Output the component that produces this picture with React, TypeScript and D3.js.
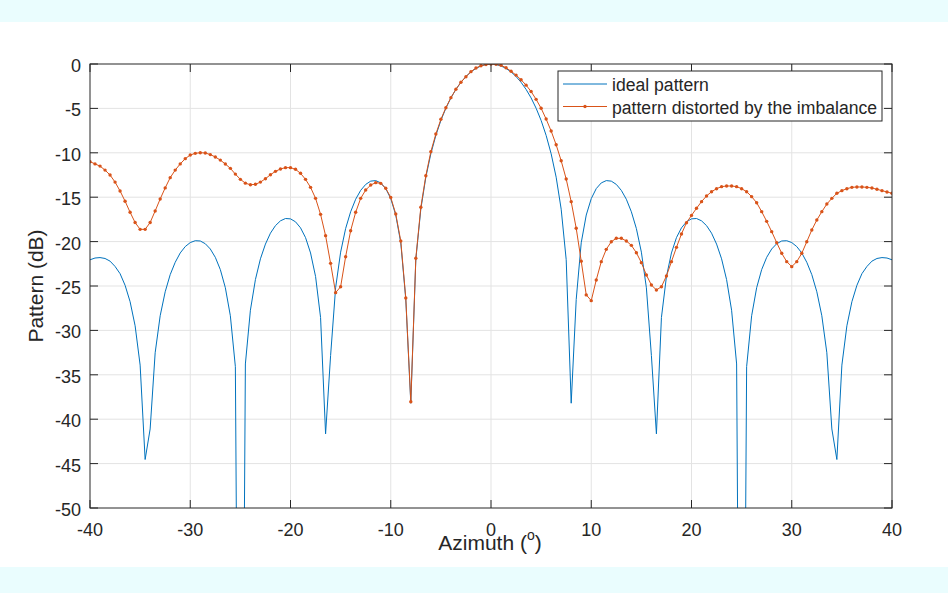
import React, { useRef, useEffect } from "react";
import * as d3 from "d3";

// azimuth sampling grid, degrees (-40 .. 40 every 0.5)
const AZIMUTH = d3.range(-40, 40.25, 0.5);

// ideal array pattern, dB
const IDEAL_DB = [
  -22.05, -21.85, -21.8, -21.9, -22.2, -22.8, -23.61, -24.92, -26.77, -29.48,
  -33.91, -44.54, -41.1, -32.52, -28.35, -25.65, -23.72, -22.33, -21.28, -20.56,
  -20.11, -19.9, -19.93, -20.24, -20.83, -21.77, -23.15, -25.19, -28.35, -34.08,
  -120, -33.78, -27.73, -24.28, -21.94, -20.28, -19.05, -18.2, -17.66, -17.4,
  -17.44, -17.77, -18.45, -19.55, -21.28, -23.93, -28.55, -41.65, -32.83, -25.2,
  -21.19, -18.53, -16.64, -15.23, -14.23, -13.56, -13.19, -13.13, -13.39, -14.03,
  -15.16, -17.01, -20.13, -26.52, -38.2, -22.03, -16.35, -12.75, -10.11, -8.04,
  -6.36, -4.98, -3.82, -2.86, -2.06, -1.41, -0.89, -0.5, -0.22, -0.06,
  0,
  -0.06, -0.22, -0.5, -0.89, -1.41, -2.06, -2.86, -3.82, -4.98, -6.36,
  -8.04, -10.11, -12.75, -16.35, -22.03, -38.2, -26.52, -20.13, -17.01, -15.16,
  -14.03, -13.39, -13.13, -13.19, -13.56, -14.23, -15.23, -16.64, -18.53, -21.19,
  -25.2, -32.83, -41.65, -28.55, -23.93, -21.28, -19.55, -18.45, -17.77, -17.44,
  -17.4, -17.66, -18.2, -19.05, -20.28, -21.94, -24.28, -27.73, -33.78, -120,
  -34.08, -28.35, -25.19, -23.15, -21.77, -20.83, -20.24, -19.93, -19.9, -20.11,
  -20.56, -21.28, -22.33, -23.72, -25.65, -28.35, -32.52, -41.1, -44.54, -33.91,
  -29.48, -26.77, -24.92, -23.61, -22.8, -22.2, -21.9, -21.8, -21.85, -22.05,
];

// pattern distorted by the imbalance, dB
const DISTORTED_DB = [
  -11.0, -11.25, -11.5, -11.95, -12.5, -13.3, -14.3, -15.45, -16.7, -17.85,
  -18.62, -18.62, -17.85, -16.55, -15.2, -13.95, -12.8, -11.95, -11.25, -10.66,
  -10.25, -10.06, -9.99, -10.02, -10.2, -10.47, -10.82, -11.26, -11.75, -12.4,
  -12.99, -13.42, -13.6, -13.55, -13.3, -12.92, -12.47, -12.09, -11.82, -11.67,
  -11.67, -11.86, -12.31, -12.99, -13.89, -15.13, -16.93, -19.33, -22.45, -25.75,
  -25.08, -21.7, -18.77, -16.7, -15.13, -14.19, -13.63, -13.36, -13.44, -14.0,
  -15.02, -16.89, -19.93, -26.35, -38.03, -21.88, -16.14, -12.58, -9.87, -7.88,
  -6.23, -4.92, -3.79, -2.85, -2.06, -1.43, -0.86, -0.45, -0.19, -0.05,
  0,
  -0.03, -0.15, -0.42, -0.82, -1.25, -1.78, -2.38, -3.1, -3.98, -4.99,
  -6.2, -7.55, -9.1, -10.9, -12.95, -15.5, -18.5, -22.2, -26.0, -26.65,
  -24.32, -22.26, -20.87, -20.01, -19.63, -19.63, -19.93, -20.42, -21.25, -22.37,
  -23.76, -24.89, -25.45, -25.08, -23.87, -22.26, -20.65, -19.14, -17.87, -17.05,
  -16.25, -15.5, -14.86, -14.38, -14.04, -13.81, -13.74, -13.74, -13.81, -14.04,
  -14.38, -14.94, -15.62, -16.63, -17.72, -18.88, -20.12, -21.32, -22.26, -22.82,
  -22.26, -21.32, -20.01, -18.69, -17.57, -16.63, -15.77, -15.13, -14.56, -14.26,
  -14.04, -13.89, -13.85, -13.85, -13.89, -13.96, -14.11, -14.26, -14.41, -14.56,
];

const X_TICKS = [-40, -30, -20, -10, 0, 10, 20, 30, 40];
const Y_TICKS = [0, -5, -10, -15, -20, -25, -30, -35, -40, -45, -50];
const LEGEND_LABELS = ["ideal pattern", "pattern distorted by the imbalance"];

const WIDTH = 948;
const HEIGHT = 593;
const BLUE = "#0072BD";
const ORANGE = "#D95319";
const AXIS = "#262626";
const FONT = "'Liberation Sans', Arial, Helvetica, sans-serif";

const App: React.FC = () => {
  const svgRef = useRef<SVGSVGElement>(null);

  useEffect(() => {
    if (!svgRef.current) return;
    const svg = d3.select(svgRef.current);
    svg.selectAll("*").remove();

    const left = 90;
    const right = 892;
    const top = 64;
    const bottom = 508;

    const x = d3.scaleLinear().domain([-40, 40]).range([left, right]);
    const y = d3.scaleLinear().domain([-50, 0]).range([bottom, top]);

    // figure background
    svg.append("rect").attr("width", WIDTH).attr("height", HEIGHT).attr("fill", "#eafdfe");
    svg.append("rect").attr("x", 0).attr("y", 22).attr("width", WIDTH).attr("height", 545).attr("fill", "#ffffff");

    // grid
    const grid = svg.append("g").attr("stroke", "#e3e3e3").attr("stroke-width", 1);
    X_TICKS.slice(1, -1).forEach((t) => {
      grid.append("line").attr("x1", x(t)).attr("x2", x(t)).attr("y1", top).attr("y2", bottom);
    });
    Y_TICKS.slice(1, -1).forEach((t) => {
      grid.append("line").attr("x1", left).attr("x2", right).attr("y1", y(t)).attr("y2", y(t));
    });

    // data
    svg.append("clipPath").attr("id", "plot-clip")
      .append("rect").attr("x", left).attr("y", top).attr("width", right - left).attr("height", bottom - top);

    const plot = svg.append("g").attr("clip-path", "url(#plot-clip)");
    const line = d3.line<number>()
      .x((_, i) => x(AZIMUTH[i]))
      .y((d) => y(d));

    plot.append("path").datum(IDEAL_DB)
      .attr("fill", "none").attr("stroke", BLUE).attr("stroke-width", 1)
      .attr("d", line);

    plot.append("path").datum(DISTORTED_DB)
      .attr("fill", "none").attr("stroke", ORANGE).attr("stroke-width", 1)
      .attr("d", line);

    plot.selectAll("circle.dot").data(DISTORTED_DB).enter()
      .append("circle")
      .attr("class", "dot")
      .attr("cx", (_, i) => x(AZIMUTH[i]))
      .attr("cy", (d) => y(d))
      .attr("r", 1.7)
      .attr("fill", ORANGE);

    // axes box and ticks
    const axis = svg.append("g").attr("stroke", AXIS).attr("stroke-width", 1).attr("fill", "none");
    axis.append("rect").attr("x", left).attr("y", top).attr("width", right - left).attr("height", bottom - top);
    X_TICKS.forEach((t) => {
      axis.append("line").attr("x1", x(t)).attr("x2", x(t)).attr("y1", bottom).attr("y2", bottom - 8);
      axis.append("line").attr("x1", x(t)).attr("x2", x(t)).attr("y1", top).attr("y2", top + 8);
    });
    Y_TICKS.forEach((t) => {
      axis.append("line").attr("x1", left).attr("x2", left + 8).attr("y1", y(t)).attr("y2", y(t));
      axis.append("line").attr("x1", right).attr("x2", right - 8).attr("y1", y(t)).attr("y2", y(t));
    });

    // tick labels
    const labels = svg.append("g").attr("font-family", FONT).attr("fill", AXIS);
    X_TICKS.forEach((t) => {
      labels.append("text").attr("x", x(t)).attr("y", 536)
        .attr("text-anchor", "middle").attr("font-size", 18).text(String(t));
    });
    Y_TICKS.forEach((t) => {
      labels.append("text").attr("x", 81).attr("y", y(t) + 8)
        .attr("text-anchor", "end").attr("font-size", 18).text(String(t));
    });

    // axis titles
    const xt = labels.append("text").attr("x", 490).attr("y", 550)
      .attr("text-anchor", "middle").attr("font-size", 21);
    xt.append("tspan").text("Azimuth (");
    xt.append("tspan").attr("font-size", 14).attr("dy", -10).text("o");
    xt.append("tspan").attr("dy", 10).text(")");

    labels.append("text")
      .attr("transform", `translate(43,${(top + bottom) / 2}) rotate(-90)`)
      .attr("text-anchor", "middle").attr("font-size", 21)
      .text("Pattern (dB)");

    // legend
    const legend = svg.append("g");
    legend.append("rect").attr("x", 558).attr("y", 71).attr("width", 324).attr("height", 50)
      .attr("fill", "#ffffff").attr("stroke", AXIS).attr("stroke-width", 1);
    const colors = [BLUE, ORANGE];
    LEGEND_LABELS.forEach((label, i) => {
      const ly = 84 + i * 22.5;
      legend.append("line").attr("x1", 563).attr("x2", 607).attr("y1", ly).attr("y2", ly)
        .attr("stroke", colors[i]).attr("stroke-width", 1);
      if (i === 1) {
        legend.append("circle").attr("cx", 585).attr("cy", ly).attr("r", 1.7).attr("fill", ORANGE);
      }
      legend.append("text").attr("x", 612).attr("y", ly + 7)
        .attr("font-family", FONT).attr("font-size", 17.6).attr("fill", AXIS)
        .text(label);
    });
  }, []);

  return (
    <svg
      ref={svgRef}
      width={WIDTH}
      height={HEIGHT}
      style={{ position: "absolute", left: 0, top: 0 }}
    />
  );
};

export default App;
